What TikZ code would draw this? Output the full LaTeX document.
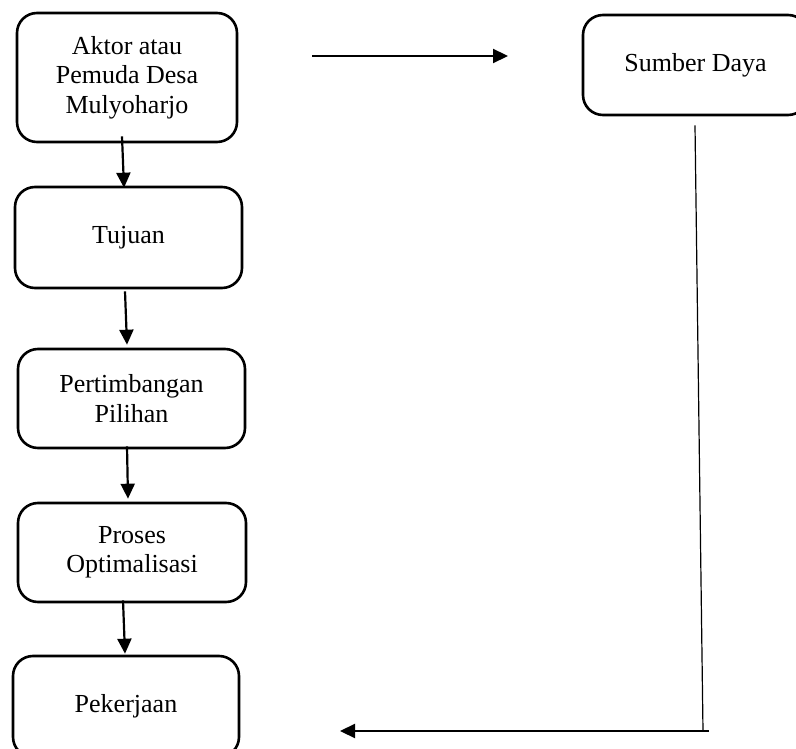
\documentclass[tikz,border=0pt]{standalone}
\usepackage{fontspec}
\setmainfont{Liberation Serif}
\usetikzlibrary{arrows.meta,calc}
\tikzset{
  box/.style={draw, line width=2.6pt, rounded corners=20pt, align=center,
    inner sep=0pt, font=\fontsize{26}{29.5}\selectfont},
  arr/.style={line width=2.2pt, -{Triangle[length=15pt,width=14pt]}},
  thinline/.style={line width=1.2pt}
}
\begin{document}
\begin{tikzpicture}[x=1pt,y=-1pt]
\useasboundingbox (0,0) rectangle (796,749);
\clip (0,0) rectangle (796,749);
\fill[white] (0,0) rectangle (796,749);
\node[box, minimum width=220pt, minimum height=129pt] (aktor) at (127,77.5) {Aktor atau\\Pemuda Desa\\Mulyoharjo};
\node[box, minimum width=227pt, minimum height=101pt] (tujuan) at (128.5,237.5) {Tujuan};
\node[box, minimum width=227pt, minimum height=99pt] (pert) at (131.5,398.5) {Pertimbangan\\Pilihan};
\node[box, minimum width=228pt, minimum height=99pt] (proses) at (132,552.5) {Proses\\Optimalisasi};
\node[box, minimum width=226pt, minimum height=101pt] (kerja) at (126,706.5) {Pekerjaan};
\node[box, minimum width=225pt, minimum height=100pt] (sumber) at (695.5,65) {Sumber Daya};
\coordinate (topA) at (312,56);
\coordinate (topB) at (508,56);
\coordinate (corner) at (703,731);
\coordinate (botEnd) at (340,731);
\draw[arr] ($(aktor.south)+(-5,-7)$) -- ($(tujuan.north)+(-4.5,2)$);
\draw[arr] ($(tujuan.south)+(-3.5,2)$) -- ($(pert.north)+(-4.5,-3)$);
\draw[arr] ($(pert.south)+(-4.5,-3)$) -- ($(proses.north)+(-4,-3)$);
\draw[arr] ($(proses.south)+(-9,-3)$) -- ($(kerja.north)+(-1,-1)$);
\draw[arr] (topA) -- (topB);
\draw[thinline] ($(sumber.south)+(-0.5,9)$) -- (corner);
\draw[arr] ($(corner)+(6,0)$) -- (botEnd);
\end{tikzpicture}
\end{document}
